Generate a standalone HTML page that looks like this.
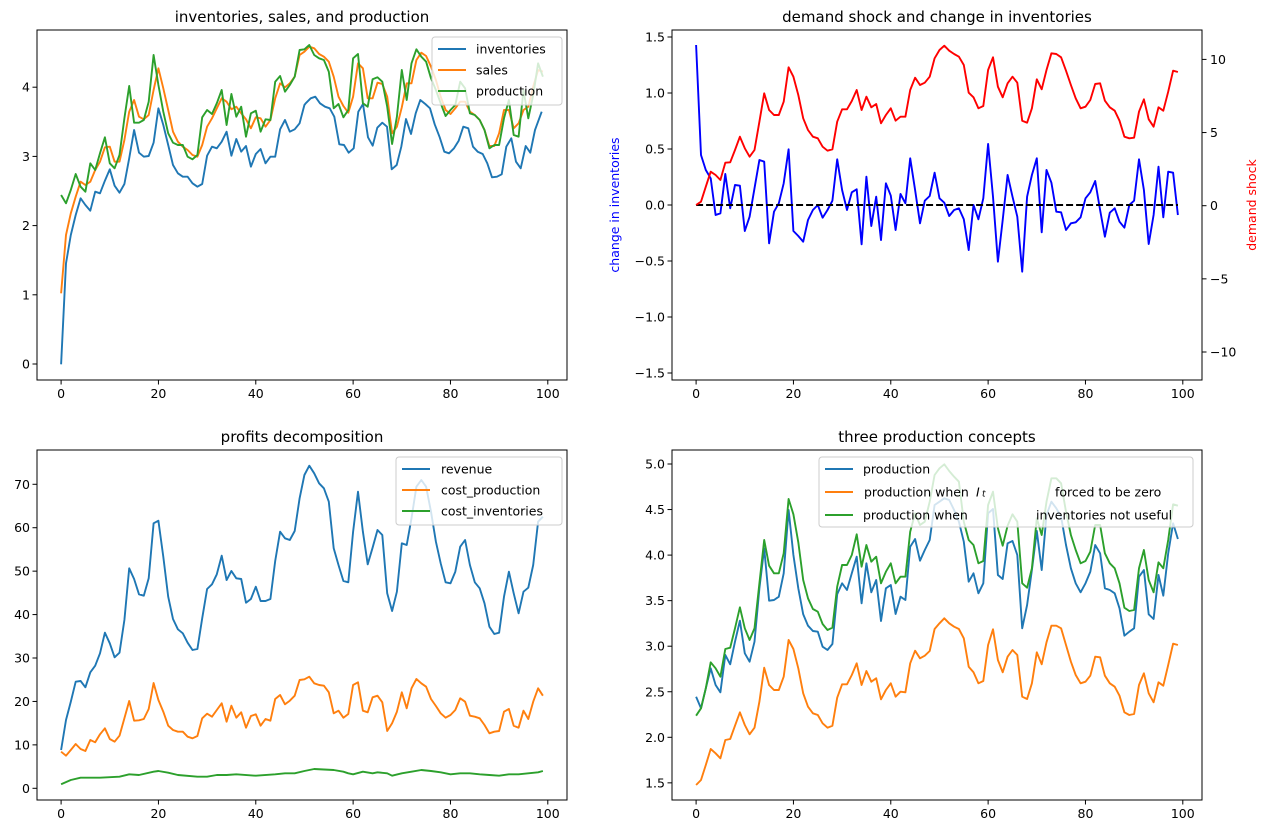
<!DOCTYPE html>
<html><head><meta charset="utf-8"><style>
html,body{margin:0;padding:0;background:#fff;}
svg{display:block;font-family:"DejaVu Sans","Liberation Sans",sans-serif;}
</style></head><body>
<svg id="s" width="1268" height="834" viewBox="0 0 1268 834" xmlns="http://www.w3.org/2000/svg">
<rect width="1268" height="834" fill="#fff"/>
<g id="g"></g>
<text x="302" y="22" font-size="15" text-anchor="middle">inventories, sales, and production</text>
<text x="937" y="22" font-size="15" text-anchor="middle">demand shock and change in inventories</text>
<text x="302" y="442" font-size="15" text-anchor="middle">profits decomposition</text>
<text x="937" y="442" font-size="15" text-anchor="middle">three production concepts</text>
<text transform="translate(619,205) rotate(-90)" font-size="12.5" fill="#0000ff" text-anchor="middle">change in inventories</text>
<text transform="translate(1256,205) rotate(-90)" font-size="12.5" fill="#ff0000" text-anchor="middle">demand shock</text>
</svg>
<script>
var NS="http://www.w3.org/2000/svg",G=document.getElementById("g");
function el(t,a,txt){var e=document.createElementNS(NS,t);for(var k in a)e.setAttribute(k,a[k]);if(txt!==undefined)e.textContent=txt;G.appendChild(e);return e;}
function pts(x0,L,R,oy){var p=[];L.slice(0,50).forEach(function(z,i){p.push([x0+4.867*i,oy+z/3]);});R.forEach(function(z,i){p.push([x0+4.867*(50+i),oy+z/3]);});return p;}
function line(p,c,w,dash){el("polyline",{points:p.map(function(q){return q[0].toFixed(1)+","+q[1].toFixed(1)}).join(" "),fill:"none",stroke:c,"stroke-width":w||1.9,"stroke-linejoin":"round","stroke-dasharray":dash||"none"});}
function axes(x1,y1,x2,y2,x0){
 el("rect",{x:x1,y:y1,width:x2-x1,height:y2-y1,fill:"none",stroke:"#000","stroke-width":1});
 for(var t=0;t<=100;t+=20){var x=x0+4.867*t;el("line",{x1:x,y1:y2,x2:x,y2:y2+4.5,stroke:"#000"});el("text",{x:x,y:y2+18,"font-size":12.5,"text-anchor":"middle"},""+t);}
}
function yt(x,y,lab,right){el("line",{x1:x,y1:y,x2:right?x+4.5:x-4.5,y2:y,stroke:"#000"});el("text",{x:right?x+8:x-7,y:y+4.5,"font-size":12.5,"text-anchor":right?"start":"end"},lab);}
var C0="#1f77b4",C1="#ff7f0e",C2="#2ca02c";
axes(37,30,567,380,61.1);axes(672,30,1202,380,696.1);axes(37,450,567,800,61.1);axes(672,450,1202,800,696.1);
for(var v=0;v<=4;v++)yt(37,364-69.2*v,""+v);
[-1.5,-1,-0.5,0,0.5,1,1.5].forEach(function(v){yt(672,205-112*v,(v<0?"\u2212":"")+Math.abs(v).toFixed(1));});
[-10,-5,0,5,10].forEach(function(v){yt(1202,205.7-14.63*v,(v<0?"\u2212":"")+Math.abs(v),true);});
for(var v=0;v<=70;v+=10)yt(37,788.3-4.343*v,""+v);
for(var v=1.5;v<=5.01;v+=0.5)yt(672,464+(5-v)*91.1,v.toFixed(1));
var invL=[1003,700,615,555,505,525,542,485,490,452,418,467,488,462,385,300,368,380,378,338,235,285,345,405,430,440,440,460,470,462,377,350,355,335,305,377,327,365,348,410,372,357,400,380,380,298,270,305,298,280,225];
var invR=[[17,220],[32,205],[46,200],[60,220],[75,230],[89,235],[103,260],[118,343],[132,345],[146,368],[161,355],[175,245],[189,222],[204,322],[218,347],[232,293],[247,278],[261,290],[275,418],[290,405],[304,350],[318,267],[333,312],[347,250],[361,210],[376,222],[390,235],[404,283],[419,322],[433,365],[447,370],[462,355],[476,332],[490,290],[505,295],[519,350],[533,365],[548,372],[562,400],[576,442],[591,440],[605,433],[619,350],[634,325],[648,395],[662,415],[677,348],[691,368],[705,300],[725,245]];
var ip=[];invL.forEach(function(z,i){ip.push([61.1+4.867*i,30+z/3]);});invR.forEach(function(q){ip.push([300+q[0]/3,30+q[1]/3]);});
var salL=[790,615,550,500,455,465,455,420,395,352,350,395,395,330,245,210,260,268,255,180,115,175,240,305,335,350,360,375,380,345,290,265,235,205,215,238,230,250,268,295,262,265,290,270,205,160,172,160,140,75];
var salR=[65,50,55,72,80,95,140,200,228,248,200,100,115,205,205,158,162,200,310,290,232,160,160,90,68,78,110,150,200,240,252,235,215,215,245,255,270,300,348,348,310,240,240,295,280,240,230,170,120,125];
var prL=[495,520,480,432,470,485,400,420,370,322,400,415,375,265,168,278,278,270,215,75,165,245,310,338,345,345,380,388,375,262,240,252,220,180,285,192,260,230,320,250,242,305,268,270,155,138,185,165,140,60];
var prR=[58,45,75,85,90,125,235,222,262,240,85,72,220,230,148,142,155,230,342,260,120,210,100,58,80,95,145,180,220,258,240,225,155,175,250,255,270,300,355,345,345,265,210,315,320,180,265,195,100,140];
line(ip,C0);line(pts(61.1,salL,salR,30),C1);line(pts(61.1,prL,prR,30),C2);
var rL=[525,515,470,425,435,450,398,397,360,320,355,380,360,275,190,240,255,255,215,112,140,195,265,300,320,325,350,362,358,275,238,238,213,180,240,200,232,222,280,255,235,272,260,260,180,143,165,158,140];
var rR=[85,60,47,62,72,80,105,188,202,235,228,120,82,170,202,160,140,158,272,278,235,148,178,120,70,72,82,122,165,205,235,230,210,162,160,212,232,242,272,320,325,323,245,208,268,290,232,242,185,122,126];
var bL=[45,375,420,445,555,550,432,535,465,467,603,560,475,390,395,640,545,520,460,358,603,618,635,570,540,525,563,540,512,388,480,540,487,478,643,440,588,500,630,460,497,600,492,520,385,480,580,512,498];
var bR=[428,505,518,558,540,535,568,660,525,568,505,342,500,695,570,435,500,560,725,500,435,385,607,420,458,545,547,600,580,577,562,505,487,453,540,620,548,535,575,593,525,512,388,480,642,555,410,562,425,428,555];
function pts2(L,R){var p=[];L.forEach(function(z,i){p.push([696.1+4.867*i,30+z/3]);});R.forEach(function(z,i){p.push([696.1+4.867*(49+i),30+z/3]);});return p;}
line(pts2(bL,bR),"#0000ff");
line([[696.1,205],[1178,205]],"#000",1.9,"7,3");
line(pts2(rL,rR),"#ff0000");
var revL=[885,795,740,680,678,697,652,632,595,533,565,607,593,495,340,372,418,422,370,205,197,305,425,492,523,535,563,585,582,490,402,388,358,302,375,348,370,372,443,432,395,438,438,432,318,230,250,255,228,130];
var revR=[60,32,55,85,100,140,280,330,378,382,230,110,230,328,278,225,240,415,468,410,265,270,190,95,75,95,170,260,325,382,385,350,275,255,330,382,400,445,515,537,533,425,350,415,475,410,398,330,200,185];
var cpL=[890,902,885,867,882,888,855,862,838,820,852,860,842,790,738,797,796,792,762,684,735,770,812,825,830,830,845,850,843,790,776,785,765,745,800,752,788,772,818,783,778,812,792,797,732,720,748,737,722,675];
var cpR=[673,665,685,690,692,712,775,767,788,777,690,682,767,772,727,722,742,828,805,770,712,760,700,672,685,695,732,753,775,788,780,765,730,740,782,785,790,810,835,830,828,770,762,812,818,767,792,740,700,722];
var ci=[[0,988],[2,975],[4,968],[8,968],[12,965],[14,958],[16,960],[19,950],[20,948],[22,953],[24,960],[28,965],[30,965],[32,960],[34,960],[36,958],[40,962],[44,958],[46,955],[48,955],[50,948],[52,942],[56,945],[58,950],[59,955],[60,958],[62,950],[64,955],[65,952],[67,955],[68,962],[70,955],[72,950],[74,945],[76,948],[78,952],[80,958],[82,955],[84,955],[86,958],[88,960],[90,962],[92,958],[94,958],[96,955],[98,952],[99,948]];
line(pts(61.1,revL,revR,455),C0);line(pts(61.1,cpL,cpR,455),C1);
line(ci.map(function(q){return [61.1+4.867*q[0],455+q[1]/3];}),C2);
var pbL=[725,760,700,640,690,712,600,628,560,497,595,620,560,400,280,437,435,425,355,165,300,400,478,512,528,530,575,585,567,418,385,405,355,305,445,325,412,375,498,400,390,477,425,435,275,252,317,285,255,150];
var pbR=[140,130,135,165,200,260,380,355,415,385,175,162,360,372,265,258,300,520,450,345,228,345,180,140,160,185,270,340,385,412,385,350,270,295,400,405,415,460,542,530,520,365,345,478,492,360,422,295,205,252];
var poL=[990,975,930,882,895,910,855,852,812,772,810,838,818,740,638,690,705,705,665,555,582,640,715,755,775,780,805,818,812,728,688,688,660,625,690,648,680,670,733,705,685,725,710,712,625,587,610,602,588,522];
var poR=[505,490,505,515,522,550,635,652,685,678,570,523,615,652,605,585,600,725,732,685,592,628,562,512,512,520,570,620,660,685,680,662,605,607,662,685,695,722,772,780,777,690,655,715,742,682,692,630,566,570];
var pgL=[782,760,700,622,640,665,582,578,520,457,520,555,520,385,255,332,355,355,295,132,178,262,375,430,462,470,507,525,518,395,330,330,300,238,335,270,320,305,385,350,325,385,365,365,230,175,210,200,140,60];
var pgR=[40,28,48,65,80,200,255,270,325,318,150,110,220,272,212,178,200,385,398,340,190,240,140,70,70,85,170,240,285,325,318,290,210,210,295,325,340,385,458,468,465,340,285,375,412,322,340,255,148,152];
line(pts(696.1,pbL,pbR,455),C0);line(pts(696.1,poL,poR,455),C1);line(pts(696.1,pgL,pgR,455),C2);
function legend(x,y,w,h,items){el("rect",{x:x,y:y,width:w,height:h,rx:3,fill:"#fff","fill-opacity":0.8,stroke:"#cccccc","stroke-width":1});
 items.forEach(function(it){el("line",{x1:x+6,y1:it[1],x2:x+34,y2:it[1],stroke:it[0],"stroke-width":1.9});
  it[2].forEach(function(s){el("text",{x:s[0],y:it[1]+4.5,"font-size":12.5,"font-style":s[2]||"normal"},s[1]);});});}
legend(432,37,130,68,[[C0,49,[[476,"inventories"]]],[C1,70,[[476,"sales"]]],[C2,91,[[476,"production"]]]]);
legend(396,457,166,68,[[C0,469,[[441,"revenue"]]],[C1,490,[[441,"cost_production"]]],[C2,511,[[441,"cost_inventories"]]]]);
legend(819,457,374,70,[[C0,469,[[863,"production"]]],[C1,492,[[864,"production when"],[976,"I","italic"],[1055,"forced to be zero"]]],[C2,515,[[863,"production when"],[1036,"inventories not useful"]]]]);
el("text",{x:982,y:496.5,"font-size":9,"font-style":"italic"},"t");
</script>
</body></html>
